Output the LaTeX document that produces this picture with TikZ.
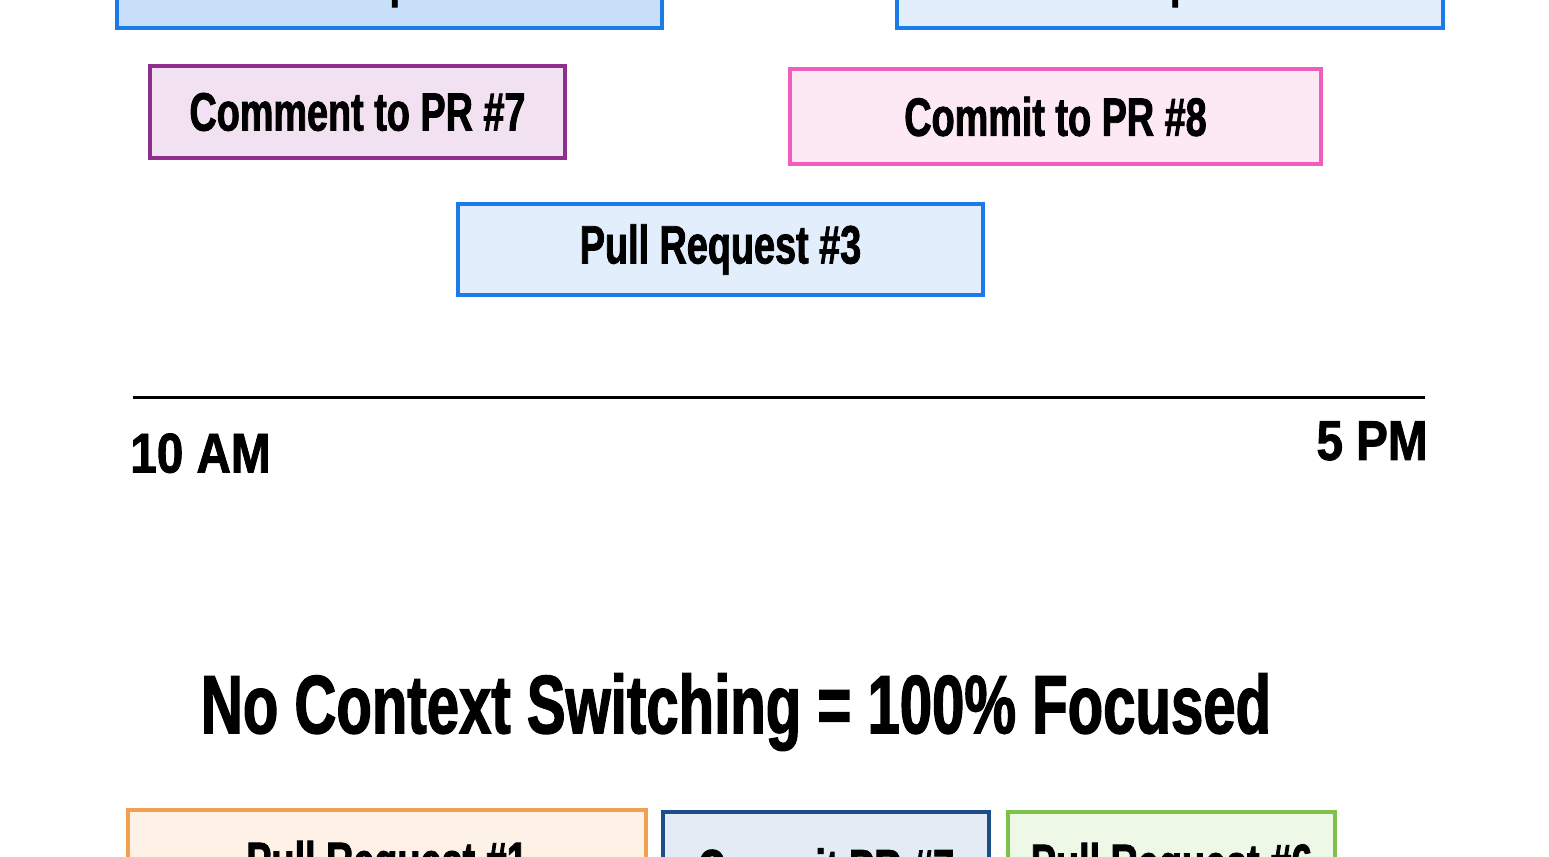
\documentclass[tikz,border=0pt]{standalone}
\usepackage{fontspec}
\usepackage{tikz}
\usetikzlibrary{positioning}
\newfontfamily\hand[FakeStretch=0.7,FakeBold=1.5]{Liberation Sans Bold}
\newfontfamily\handwide[FakeStretch=0.85,FakeBold=1.5]{Liberation Sans Bold}
\definecolor{prblue}{HTML}{1C7BEA}
\definecolor{prfill}{HTML}{E3EEFC}
\definecolor{prfilldark}{HTML}{C8DFFA}
\definecolor{cmpurple}{HTML}{8E2F8E}
\definecolor{cmfill}{HTML}{F2E2F1}
\definecolor{cmpink}{HTML}{F25CBE}
\definecolor{cpfill}{HTML}{FDE9F4}
\definecolor{orangeline}{HTML}{F0A04E}
\definecolor{orangefill}{HTML}{FEF1E6}
\definecolor{navyline}{HTML}{1F4D8A}
\definecolor{navyfill}{HTML}{E3EBF5}
\definecolor{greenline}{HTML}{7EC24C}
\definecolor{greenfill}{HTML}{EEF8E6}
\tikzset{font=\hand\fontsize{27}{30}\selectfont}
\tikzstyle{task}=[rectangle,draw,line width=1.7pt,inner sep=0pt]
\tikzstyle{clock}=[inner sep=0pt,font=\handwide\fontsize{28}{30}\selectfont]

\begin{document}
\begin{tikzpicture}[x=0.5pt,y=-0.5pt]
\useasboundingbox (0,0) rectangle (1549,857);
\clip (0,0) rectangle (1549,857);
% upper lane
\node[task,draw=prblue,fill=prfilldark,minimum width=272.5pt,minimum height=46pt] (P2) at (389.5,-18) {Pull Request \#2};
\node[task,draw=prblue,fill=prfill,minimum width=273pt,minimum height=46pt] (P5) at (1170,-18) {Pull Request \#5};
\node[task,draw=cmpurple,fill=cmfill,minimum width=207.5pt,minimum height=46pt] (C7) at (357.5,112) {Comment to PR \#7};
\node[task,draw=cmpink,fill=cpfill,minimum width=265.5pt,minimum height=47.5pt] (C8) at (1055.5,116.5) {Commit to PR \#8};
\node[task,draw=prblue,fill=prfill,minimum width=262.5pt,minimum height=45.5pt] (P3) at (720.5,249.5) {Pull Request \#3};
% time line
\coordinate (T0) at (133,397);
\coordinate (T1) at (1425,397);
\draw[line width=1.5pt] (T0) -- (T1);
\node[clock,anchor=north west] (AM) at (130,433) {10 AM};
\node[clock,anchor=north east] (PM) at (1428,421) {5 PM};
% caption
\node (focus) at (736,712) {\fontsize{41.5}{44}\selectfont No Context Switching = 100\% Focused};
% lower lane
\node[task,draw=orangeline,fill=orangefill,minimum width=259pt,minimum height=56pt] (P1) at (387,866) {Pull Request \#1};
\node[task,draw=navyline,fill=navyfill,minimum width=163pt,minimum height=56pt] (K7) at (826,868) {Commit PR \#7};
\node[task,draw=greenline,fill=greenfill,minimum width=163.5pt,minimum height=56pt] (P6) at (1171.5,868) {Pull Request \#6};
\end{tikzpicture}
\end{document}
